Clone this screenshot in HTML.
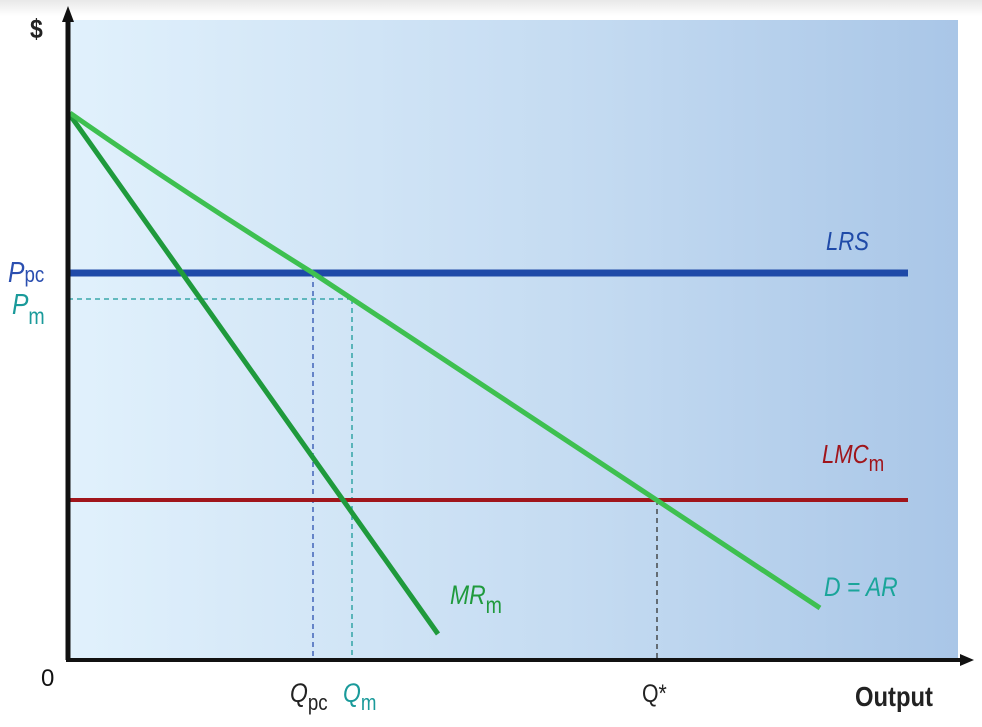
<!DOCTYPE html>
<html><head><meta charset="utf-8"><style>
html,body{margin:0;padding:0;background:#fff;}
svg{display:block;font-family:"Liberation Sans",sans-serif;}
</style></head><body>
<svg width="982" height="727" viewBox="0 0 982 727">
<defs>
<linearGradient id="bg" x1="0" x2="1" y1="0" y2="0">
<stop offset="0" stop-color="#e1f1fc"/>
<stop offset="0.6" stop-color="#c3daf1"/>
<stop offset="1" stop-color="#a9c6e7"/>
</linearGradient>
<linearGradient id="top" x1="0" x2="0" y1="0" y2="1">
<stop offset="0" stop-color="#e8e8e8"/><stop offset="1" stop-color="#ffffff"/>
</linearGradient>
</defs>
<rect x="0" y="0" width="982" height="16" fill="url(#top)"/>
<rect x="68" y="20" width="890" height="640" fill="url(#bg)"/>
<line x1="313" y1="273" x2="313" y2="660" stroke="#2b4fb0" stroke-width="1.3" stroke-dasharray="5,4"/>
<line x1="68" y1="299" x2="352" y2="299" stroke="#1a9a9a" stroke-width="1.3" stroke-dasharray="5,4"/>
<line x1="352" y1="299" x2="352" y2="660" stroke="#1a9a9a" stroke-width="1.3" stroke-dasharray="5,4"/>
<line x1="657" y1="500" x2="657" y2="660" stroke="#333" stroke-width="1.3" stroke-dasharray="5,4"/>
<line x1="68" y1="273" x2="908" y2="273" stroke="#1f4aa8" stroke-width="7"/>
<line x1="68" y1="500" x2="908" y2="500" stroke="#a0151b" stroke-width="4"/>
<line x1="70" y1="115" x2="438" y2="634" stroke="#1f9a3c" stroke-width="5"/>
<path d="M70 113 Q180 190 313 273 L820 608" fill="none" stroke="#3ec050" stroke-width="5"/>
<line x1="68" y1="660" x2="68" y2="20" stroke="#111" stroke-width="5"/>
<polygon points="62,22 74,22 68,6" fill="#111"/>
<line x1="66" y1="660" x2="962" y2="660" stroke="#111" stroke-width="4"/>
<polygon points="960,654 960,666 974,660" fill="#111"/>
<g font-size="24">
<text x="30" y="38" font-size="27" font-weight="bold" fill="#222" transform="translate(30 0) scale(0.85 1) translate(-30 0)">$</text>
<text x="41" y="686" fill="#111">0</text>
<text fill="#2b4fb0" transform="translate(8 0) scale(0.85 1) translate(-8 0)"><tspan x="8" y="282" font-size="29" font-style="italic">P</tspan><tspan font-size="22">pc</tspan></text>
<text fill="#1a9a9a" transform="translate(12 0) scale(0.85 1) translate(-12 0)"><tspan x="12" y="314" font-size="29" font-style="italic">P</tspan><tspan font-size="23" dy="10">m</tspan></text>
<text fill="#222" transform="translate(290 0) scale(0.85 1) translate(-290 0)"><tspan x="290" y="702" font-size="27" font-style="italic">Q</tspan><tspan font-size="22" dy="8">pc</tspan></text>
<text fill="#1a9a9a" transform="translate(343 0) scale(0.85 1) translate(-343 0)"><tspan x="343" y="702" font-size="27" font-style="italic">Q</tspan><tspan font-size="22" dy="8">m</tspan></text>
<text x="642" y="702" font-size="25" fill="#222" transform="translate(642 0) scale(0.85 1) translate(-642 0)">Q*</text>
<text x="855" y="706" font-size="28" font-weight="bold" fill="#222" transform="translate(855 0) scale(0.85 1) translate(-855 0)">Output</text>
<text x="826" y="250" font-size="26" font-style="italic" fill="#1f4aa8" transform="translate(826 0) scale(0.85 1) translate(-826 0)">LRS</text>
<text fill="#a0151b" transform="translate(822 0) scale(0.85 1) translate(-822 0)"><tspan x="822" y="463" font-size="26" font-style="italic">LMC</tspan><tspan font-size="22" dy="8">m</tspan></text>
<text fill="#1f9a3c" transform="translate(450 0) scale(0.85 1) translate(-450 0)"><tspan x="450" y="604" font-size="27" font-style="italic">MR</tspan><tspan font-size="23" dy="9">m</tspan></text>
<text x="824" y="596" font-size="27" font-style="italic" fill="#1aa59a" transform="translate(824 0) scale(0.85 1) translate(-824 0)">D = AR</text>
</g>
</svg>
</body></html>
